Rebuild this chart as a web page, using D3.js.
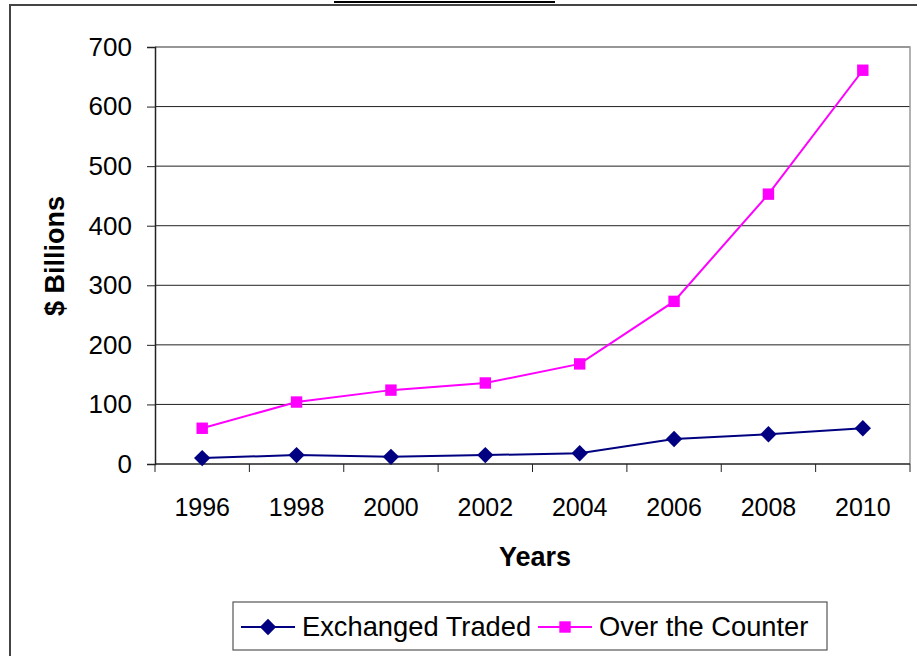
<!DOCTYPE html>
<html>
<head>
    <meta charset="utf-8">
    <title>derivatives</title>
    <script src="https://cdn.jsdelivr.net/npm/d3@7" type="text/javascript"></script>
</head>
<body style="margin:0;background:#fff;">
<style type="text/css">
    text {font-family: Arial, "Liberation Sans", sans-serif; fill: #000;}
</style>
<div id="container"></div>

<script type="text/javascript">
    const years = ['1996', '1998', '2000', '2002', '2004', '2006', '2008', '2010'];
    const exchangeTraded = [10, 15, 12, 15, 18, 42, 50, 60];
    const overTheCounter = [60, 104, 124, 136, 168, 273, 453, 661];
    const yTicks = [0, 100, 200, 300, 400, 500, 600, 700];
    const seriesNames = ['Exchanged Traded', 'Over the Counter'];

    const w = 917;
    const h = 656;

    const svg = d3.select('div#container')
        .append('svg')
        .attr('width', w)
        .attr('height', h);

    // outer chart frame (cut off at right/bottom)
    svg.append('path')
        .attr('d', `M10 ${h+5} L10 5 L${w+5} 5`)
        .style('fill', 'none')
        .style('stroke', '#444')
        .style('stroke-width', 2);

    // remnant of title underline
    svg.append('line')
        .attr('x1', 334).attr('x2', 555)
        .attr('y1', 2).attr('y2', 2)
        .style('stroke', '#000').style('stroke-width', 2);

    const plot = {left: 155, right: 910, top: 47, bottom: 464};

    const x = d3.scaleBand()
        .domain(years)
        .range([plot.left, plot.right]);

    const y = d3.scaleLinear()
        .domain([0, 700])
        .range([plot.bottom, plot.top]);

    // gridlines
    svg.append('g')
        .selectAll('line')
        .data(yTicks.slice(1))
        .join('line')
        .attr('x1', plot.left).attr('x2', plot.right)
        .attr('y1', d => y(d)).attr('y2', d => y(d))
        .style('stroke', '#222').style('stroke-width', 1);

    // plot frame right side
    svg.append('path')
        .attr('d', `M${plot.left} ${plot.top} L${plot.right} ${plot.top} L${plot.right} ${plot.bottom}`)
        .style('fill', 'none').style('stroke', '#999').style('stroke-width', 1.5);

    // y axis
    const yAxis = svg.append('g')
        .attr('transform', `translate(${plot.left},0)`)
        .call(d3.axisLeft(y).tickValues(yTicks).tickSize(8).tickPadding(15));
    yAxis.select('.domain').style('stroke', '#222').style('stroke-width', 1.5);
    yAxis.selectAll('.tick line').style('stroke', '#222');
    yAxis.selectAll('.tick text').style('font-size', '26px');

    // x axis with ticks between categories
    const xAxis = svg.append('g')
        .attr('transform', `translate(0,${plot.bottom})`);
    xAxis.append('line')
        .attr('x1', plot.left).attr('x2', plot.right)
        .style('stroke', '#222').style('stroke-width', 1.5);
    xAxis.selectAll('line.tk')
        .data(years.concat(['end']))
        .join('line')
        .attr('class', 'tk')
        .attr('x1', (d, i) => plot.left + i * x.bandwidth())
        .attr('x2', (d, i) => plot.left + i * x.bandwidth())
        .attr('y1', 0).attr('y2', 8)
        .style('stroke', '#222');
    xAxis.selectAll('text')
        .data(years)
        .join('text')
        .attr('x', d => x(d) + x.bandwidth() / 2)
        .attr('y', 52)
        .attr('text-anchor', 'middle')
        .style('font-size', '25px')
        .text(d => d);

    // axis titles
    svg.append('text')
        .attr('transform', 'translate(64,256) rotate(-90)')
        .attr('text-anchor', 'middle')
        .style('font-size', '27px')
        .style('font-weight', 'bold')
        .text('$ Billions');

    svg.append('text')
        .attr('x', 535).attr('y', 566)
        .attr('text-anchor', 'middle')
        .style('font-size', '27px')
        .style('font-weight', 'bold')
        .text('Years');

    const cx = d => x(d) + x.bandwidth() / 2;
    const line = d3.line().x(d => cx(d.year)).y(d => y(d.v));

    const navy = '#000080';
    const magenta = '#ff00ff';
    const diamond = d3.symbol().type(d3.symbolDiamond2).size(170);
    const square = d3.symbol().type(d3.symbolSquare).size(130);

    function drawSeries(vals, color, sym) {
        const pts = vals.map((v, i) => ({year: years[i], v: v}));
        svg.append('path')
            .datum(pts)
            .attr('d', line)
            .style('fill', 'none').style('stroke', color).style('stroke-width', 2);
        svg.append('g')
            .selectAll('path')
            .data(pts)
            .join('path')
            .attr('d', sym)
            .attr('transform', d => `translate(${cx(d.year)},${y(d.v)})`)
            .style('fill', color);
    }

    drawSeries(overTheCounter, magenta, square);
    drawSeries(exchangeTraded, navy, diamond);

    // legend
    const legend = svg.append('g');
    legend.append('rect')
        .attr('x', 233).attr('y', 602)
        .attr('width', 594).attr('height', 48)
        .style('fill', '#fff').style('stroke', '#555').style('stroke-width', 1.2);

    const legendItems = [
        {name: seriesNames[0], color: navy, sym: diamond, x0: 241},
        {name: seriesNames[1], color: magenta, sym: square, x0: 538}
    ];
    legendItems.forEach(d => {
        legend.append('line')
            .attr('x1', d.x0).attr('x2', d.x0 + 54)
            .attr('y1', 627).attr('y2', 627)
            .style('stroke', d.color).style('stroke-width', 2);
        legend.append('path')
            .attr('d', d.sym)
            .attr('transform', `translate(${d.x0 + 27},627)`)
            .style('fill', d.color);
        legend.append('text')
            .attr('x', d.x0 + 61).attr('y', 636)
            .style('font-size', '27.3px')
            .text(d.name);
    });
</script>
</body>
</html>
